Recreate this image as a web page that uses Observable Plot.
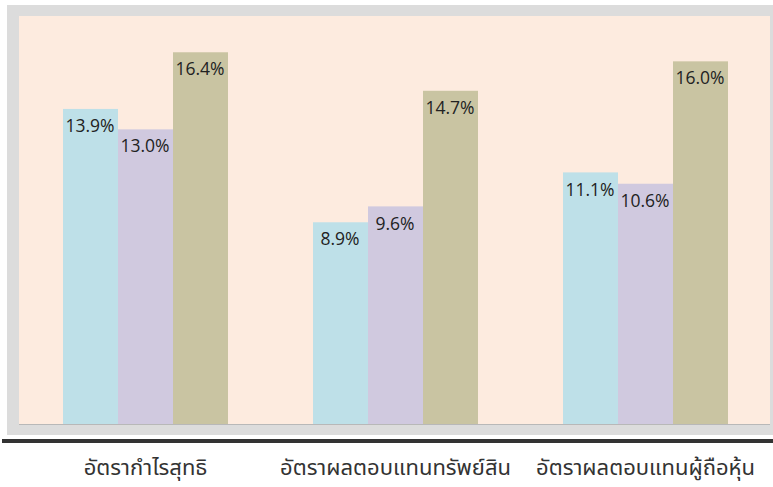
<!DOCTYPE html>
<html>
<head>
<meta charset="utf-8">
<script src="https://cdn.jsdelivr.net/npm/d3@7"></script>
<script src="https://cdn.jsdelivr.net/npm/@observablehq/plot@0.6"></script>
<style>
  html, body { margin: 0; padding: 0; background: #fff; }
  #wrap { position: relative; width: 773px; height: 487px; overflow: hidden; }
  .deco { position: absolute; }
  #chart { position: absolute; left: 0; top: 0; }
</style>
</head>
<body>
<div id="wrap">
  <div class="deco" style="left:7px;top:5px;width:766px;height:430px;background:#dcdcdc;"></div>
  <div class="deco" style="left:19px;top:16px;width:751px;height:408px;background:#fdebdf;"></div>
  <div class="deco" style="left:19px;top:424px;width:751px;height:1px;background:#b8b8b8;"></div>
  <div class="deco" style="left:2px;top:439px;width:771px;height:4px;background:#333;"></div>
  <div id="chart"></div>
</div>
<script>
const categories = ["อัตรากำไรสุทธิ", "อัตราผลตอบแทนทรัพย์สิน", "อัตราผลตอบแทนผู้ถือหุ้น"];
const seriesNames = ["ชุดที่ 1", "ชุดที่ 2", "ชุดที่ 3"];
const series1 = [13.9, 8.9, 11.1];
const series2 = [13.0, 9.6, 10.6];
const series3 = [16.4, 14.7, 16.0];
const seriesColors = ["#bee0e8", "#d0c9df", "#c9c4a2"];

const allSeries = [series1, series2, series3];
const data = [];
categories.forEach((c, i) => {
  allSeries.forEach((s, j) => {
    data.push({category: c, series: seriesNames[j], value: s[i]});
  });
});

const chart = Plot.plot({
  width: 773,
  height: 487,
  marginLeft: 20,
  marginRight: 3,
  marginTop: 16,
  marginBottom: 63,
  style: {background: "transparent", overflow: "visible"},
  fx: {domain: categories, paddingInner: 0.336, paddingOuter: 0.168, label: null, axis: null},
  x: {domain: seriesNames, padding: 0, axis: null},
  y: {domain: [0, 18], axis: null},
  color: {domain: seriesNames, range: seriesColors},
  marks: [
    Plot.barY(data, {fx: "category", x: "series", y: "value", fill: "series"}),
    Plot.text(data, {
      fx: "category", x: "series", y: "value",
      text: d => d.value.toFixed(1) + "%",
      dy: 17, dx: -1,
      fontSize: 17.5,
      fontFamily: "'Open Sans', sans-serif",
      fill: "#222"
    }),
    Plot.axisFx({
      anchor: "bottom",
      tickSize: 0,
      tickPadding: 35,
      fontSize: 22,
      fontFamily: "'Noto Sans Thai', 'Noto Sans', sans-serif",
      fill: "#333",
      label: null
    })
  ]
});
document.getElementById("chart").appendChild(chart);
</script>
</body>
</html>
